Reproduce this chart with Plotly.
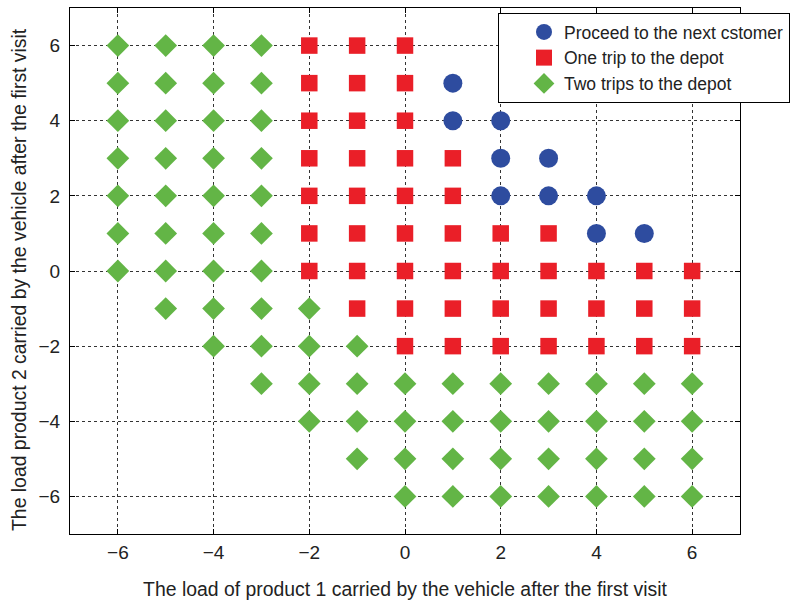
import plotly.graph_objects as go

# Decision regions over the (load 1, load 2) grid after the first visit
proceed_x = [1, 1, 2, 2, 3, 2, 3, 4, 4, 5]
proceed_y = [5, 4, 4, 3, 3, 2, 2, 2, 1, 1]

one_trip_x = ([-2, -1, 0] * 3
              + [-2, -1, 0, 1] * 2
              + [-2, -1, 0, 1, 2, 3]
              + [-2, -1, 0, 1, 2, 3, 4, 5, 6]
              + [-1, 0, 1, 2, 3, 4, 5, 6]
              + [0, 1, 2, 3, 4, 5, 6])
one_trip_y = ([6] * 3 + [5] * 3 + [4] * 3
              + [3] * 4 + [2] * 4
              + [1] * 6
              + [0] * 9
              + [-1] * 8
              + [-2] * 7)

two_trips_x = ([-6, -5, -4, -3] * 7
               + [-5, -4, -3, -2]
               + [-4, -3, -2, -1]
               + [-3, -2, -1, 0, 1, 2, 3, 4, 5, 6]
               + [-2, -1, 0, 1, 2, 3, 4, 5, 6]
               + [-1, 0, 1, 2, 3, 4, 5, 6]
               + [0, 1, 2, 3, 4, 5, 6])
two_trips_y = ([6] * 4 + [5] * 4 + [4] * 4 + [3] * 4 + [2] * 4 + [1] * 4 + [0] * 4
               + [-1] * 4
               + [-2] * 4
               + [-3] * 10
               + [-4] * 9
               + [-5] * 8
               + [-6] * 7)

tick_vals = [-6, -4, -2, 0, 2, 4, 6]

x_title = "The load of product 1 carried by the vehicle after the first visit"
y_title = "The load product 2 carried by the vehicle after the first visit"

FONT = "Liberation Sans, Arial, Helvetica, sans-serif"
TEXT = "#222222"

fig = go.Figure()
fig.add_trace(go.Scatter(
    x=proceed_x, y=proceed_y, mode="markers",
    name="Proceed to the next cstomer",
    marker=dict(symbol="circle", size=19, color="#2E4C9F",
                line=dict(width=0)),
))
fig.add_trace(go.Scatter(
    x=one_trip_x, y=one_trip_y, mode="markers",
    name="One trip to the depot",
    marker=dict(symbol="square", size=16.5, color="#EA1F28",
                line=dict(width=0)),
))
fig.add_trace(go.Scatter(
    x=two_trips_x, y=two_trips_y, mode="markers",
    name="Two trips to the depot",
    marker=dict(symbol="diamond", size=17.5, color="#63B546",
                line=dict(width=0)),
))

axis_common = dict(
    range=[-7, 7],
    tickvals=tick_vals,
    ticks="inside",
    ticklen=5,
    tickcolor="black",
    showline=True,
    linecolor="black",
    linewidth=1,
    mirror="ticks",
    showgrid=True,
    gridcolor="#333333",
    gridwidth=1,
    griddash="dot",
    zeroline=False,
    tickfont=dict(family=FONT, size=19, color=TEXT),
)

# Vertical axis title, placed as rotated text left of the tick labels
fig.add_annotation(
    text=y_title,
    xref="paper", yref="paper",
    x=(19 - 70) / 670, y=(534 - 280) / 526,
    xanchor="center", yanchor="middle",
    textangle=-90,
    showarrow=False,
    font=dict(family=FONT, size=19.4, color=TEXT),
)

fig.update_layout(
    width=797,
    height=600,
    margin=dict(l=70, r=57, t=8, b=66, autoexpand=False),
    paper_bgcolor="white",
    plot_bgcolor="white",
    font=dict(family=FONT, color=TEXT),
    xaxis=dict(
        **axis_common,
        ticklabelstandoff=1,
        title=dict(text=x_title,
                   font=dict(family=FONT, size=19.4, color=TEXT),
                   standoff=22),
    ),
    yaxis=dict(
        **axis_common,
        ticklabelstandoff=5,
    ),
    showlegend=True,
    legend=dict(
        x=(498 - 70) / 670,
        y=(534 - 13) / 526,
        xanchor="left",
        yanchor="top",
        bgcolor="white",
        bordercolor="black",
        borderwidth=1,
        indentation=25,
        entrywidth=250,
        font=dict(family=FONT, size=17.5, color=TEXT),
        tracegroupgap=0,
    ),
)

fig.write_html("out.html")
